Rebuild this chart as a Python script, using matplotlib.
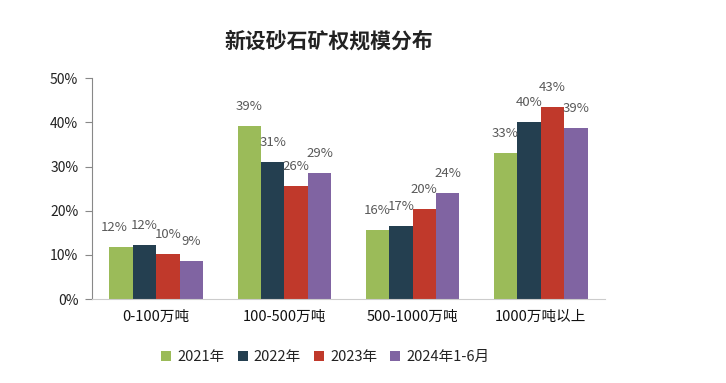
import matplotlib
matplotlib.use("Agg")
import matplotlib.pyplot as plt
import numpy as np

plt.rcParams['font.family'] = ['Noto Sans CJK SC', 'DejaVu Sans']

categories = ["0-100万吨", "100-500万吨", "500-1000万吨", "1000万吨以上"]
series_names = ["2021年", "2022年", "2023年", "2024年1-6月"]
v2021 = [0.118, 0.391, 0.157, 0.331]
v2022 = [0.122, 0.310, 0.165, 0.400]
v2023 = [0.102, 0.256, 0.203, 0.434]
v2024 = [0.086, 0.285, 0.240, 0.387]
labels2021 = ["12%", "39%", "16%", "33%"]
labels2022 = ["12%", "31%", "17%", "40%"]
labels2023 = ["10%", "26%", "20%", "43%"]
labels2024 = ["9%", "29%", "24%", "39%"]
yticks = [0, 0.1, 0.2, 0.3, 0.4, 0.5]
ytick_labels = ["0%", "10%", "20%", "30%", "40%", "50%"]

colors = ["#9BBB59", "#243F50", "#C0392B", "#8064A2"]
series = [v2021, v2022, v2023, v2024]
labels = [labels2021, labels2022, labels2023, labels2024]

fig = plt.figure(figsize=(7.26, 3.83), dpi=100)
ax = fig.add_axes([0.127, 0.219, 0.706, 0.577])

x = np.arange(len(categories))
w = 0.183
for i, (vals, lab, c, name) in enumerate(zip(series, labels, colors, series_names)):
    pos = x + (i - 1.5) * w
    bars = ax.bar(pos, vals, width=w, color=c, label=name, zorder=2)
    for j, (b, t) in enumerate(zip(bars, lab)):
        dx = -5 if (i == 0 and j == 0) else 0
        ax.annotate(t, (b.get_x() + b.get_width() / 2, b.get_height()),
                    xytext=(dx, 14), textcoords="offset points",
                    ha="center", va="center", fontsize=9.5, color="#595959")

ax.set_xlim(-0.5, 3.5)
ax.set_ylim(0, 0.5)
ax.set_yticks(yticks)
ax.set_yticklabels(ytick_labels, fontsize=10, color="#222222")
ax.set_xticks(x)
ax.set_xticklabels(categories, fontsize=10.5, color="#111111")
ax.tick_params(axis="x", length=0, pad=8)
ax.tick_params(axis="y", length=5, color="#888888", direction="out", pad=5)
for s in ["top", "right"]:
    ax.spines[s].set_visible(False)
ax.spines["left"].set_color("#888888")
ax.spines["bottom"].set_color("#cccccc")

fig.text(0.453, 0.893, "新设砂石矿权规模分布", ha="center", va="center",
         fontsize=15, fontweight="bold", color="#222222")

leg = fig.legend(loc="center", bbox_to_anchor=(0.448, 0.068), ncol=4, frameon=False,
                 fontsize=10.5, handlelength=0.7, handleheight=0.7, handletextpad=0.4,
                 columnspacing=0.9)
for t in leg.get_texts():
    t.set_color("#222222")

fig.savefig("out.png", dpi=100)
